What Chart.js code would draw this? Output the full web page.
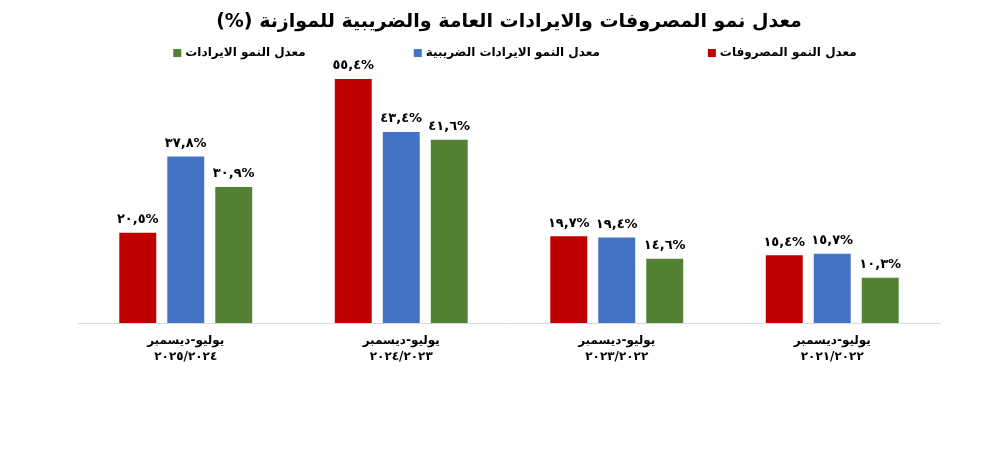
<!DOCTYPE html>
<html><head><meta charset="utf-8">
<script src="https://cdn.jsdelivr.net/npm/chart.js@4/dist/chart.umd.min.js"></script>
<style>html,body{margin:0;padding:0;background:#fff;}</style>
</head><body>
<canvas id="c" width="984" height="460" dir="rtl"></canvas>
<script>
const titleText = "معدل نمو المصروفات والايرادات العامة والضريبية للموازنة (%)";
const periodLabel = "يوليو-ديسمبر";
const yearLabels = ["٢٠٢٥/٢٠٢٤", "٢٠٢٤/٢٠٢٣", "٢٠٢٣/٢٠٢٢", "٢٠٢١/٢٠٢٢"];
const seriesNames = ["معدل النمو المصروفات", "معدل النمو الايرادات الضريبية", "معدل النمو الايرادات"];
const seriesColors = ["#C00000", "#4472C4", "#548235"];
const expensesGrowth = [20.5, 55.4, 19.7, 15.4];
const taxRevenueGrowth = [37.8, 43.4, 19.4, 15.7];
const revenueGrowth = [30.9, 41.6, 14.6, 10.3];
const yMax = 60;

const FONT = "'DejaVu Sans', sans-serif";
const arabicDigits = "٠١٢٣٤٥٦٧٨٩";
function fmt(v) {
  return v.toFixed(1).replace('.', ',').replace(/[0-9]/g, d => arabicDigits[+d]) + '%';
}

const valueLabels = {
  id: 'valueLabels',
  afterDatasetsDraw(chart) {
    const ctx = chart.ctx;
    ctx.save();
    ctx.direction = 'ltr';
    ctx.font = "bold 13px " + FONT;
    ctx.fillStyle = '#000';
    ctx.textAlign = 'center';
    ctx.textBaseline = 'middle';
    chart.data.datasets.forEach((ds, i) => {
      chart.getDatasetMeta(i).data.forEach((bar, j) => {
        ctx.fillText(fmt(ds.data[j]), bar.x, bar.y - 13);
      });
    });
    ctx.restore();
  }
};

const customLegend = {
  id: 'customLegend',
  afterDraw(chart) {
    const ctx = chart.ctx;
    ctx.save();
    ctx.font = "bold 12px " + FONT;
    ctx.textBaseline = 'middle';
    ctx.textAlign = 'left';
    const order = [2, 1, 0];
    const box = 8, boxGap = 4, gap = 108;
    const widths = order.map(i => box + boxGap + ctx.measureText(chart.data.datasets[i].label).width);
    const total = widths.reduce((a, b) => a + b, 0) + gap * (order.length - 1);
    const center = (chart.chartArea.left + chart.chartArea.right) / 2 + 6;
    let x = center - total / 2;
    const y = 53;
    order.forEach((i, k) => {
      const ds = chart.data.datasets[i];
      ctx.fillStyle = ds.backgroundColor;
      ctx.fillRect(x, y - box / 2, box, box);
      ctx.fillStyle = '#000';
      ctx.fillText(ds.label, x + box + boxGap, y);
      x += widths[k] + gap;
    });
    ctx.restore();
  }
};

new Chart(document.getElementById('c'), {
  type: 'bar',
  data: {
    labels: yearLabels.map(y => [periodLabel, y]),
    datasets: [
      { label: seriesNames[0], data: expensesGrowth, backgroundColor: seriesColors[0] },
      { label: seriesNames[1], data: taxRevenueGrowth, backgroundColor: seriesColors[1] },
      { label: seriesNames[2], data: revenueGrowth, backgroundColor: seriesColors[2] }
    ]
  },
  options: {
    responsive: false,
    animation: false,
    events: [],
    layout: { padding: { left: 78, right: 44, top: 0, bottom: 85 } },
    datasets: { bar: { categoryPercentage: 0.668, barPercentage: 0.77, borderWidth: 0 } },
    plugins: {
      legend: { display: false },
      tooltip: { enabled: false },
      title: {
        display: true,
        text: titleText,
        color: '#000',
        font: { family: FONT, size: 19, weight: 'bold', lineHeight: 1.2 },
        padding: { top: 11, bottom: 25 }
      }
    },
    scales: {
      x: {
        grid: { display: false, drawTicks: false },
        border: { display: true, color: '#d9d9d9', width: 1 },
        ticks: { color: '#000', padding: 10, font: { family: FONT, size: 12, weight: 'bold', lineHeight: '16px' }, maxRotation: 0 }
      },
      y: { display: false, min: 0, max: yMax }
    }
  },
  plugins: [valueLabels, customLegend]
});
</script>
</body></html>
